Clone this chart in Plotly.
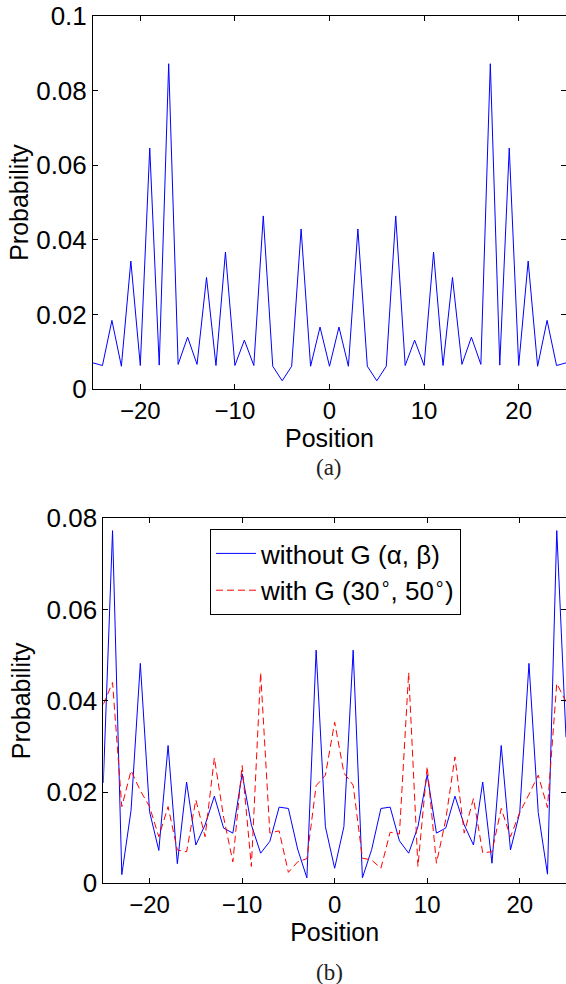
import plotly.graph_objects as go

# ---------------- data ----------------
positions = list(range(-25, 26))

# (a) probability distribution
prob_a = [0.0070, 0.0063, 0.0184, 0.0061, 0.0343, 0.0063, 0.0646, 0.0064, 0.0872, 0.0066,
          0.0139, 0.0066, 0.0299, 0.0063, 0.0367, 0.0063, 0.0131, 0.0063, 0.0464, 0.0061,
          0.0022, 0.0061, 0.0429, 0.0061, 0.0166, 0.0061, 0.0166, 0.0061, 0.0429, 0.0061,
          0.0022, 0.0061, 0.0464, 0.0063, 0.0131, 0.0063, 0.0367, 0.0063, 0.0299, 0.0066,
          0.0139, 0.0066, 0.0872, 0.0064, 0.0646, 0.0063, 0.0343, 0.0061, 0.0184, 0.0063,
          0.0070]

# (b) without G (alpha, beta)
prob_without = [0.0220, 0.0773, 0.0019, 0.0160, 0.0482, 0.0157, 0.0072, 0.0302, 0.0043, 0.0222,
                0.0084, 0.0128, 0.0191, 0.0121, 0.0110, 0.0240, 0.0128, 0.0066, 0.0092, 0.0167,
                0.0164, 0.0075, 0.0012, 0.0511, 0.0124, 0.0033, 0.0124, 0.0511, 0.0012, 0.0074,
                0.0164, 0.0167, 0.0093, 0.0066, 0.0124, 0.0238, 0.0110, 0.0121, 0.0191, 0.0128,
                0.0084, 0.0222, 0.0044, 0.0302, 0.0073, 0.0155, 0.0482, 0.0155, 0.0020, 0.0773,
                0.0320]

# (b) with G (30°, 50°)
prob_with = [0.0392, 0.0440, 0.0168, 0.0247, 0.0203, 0.0168, 0.0102, 0.0168, 0.0073, 0.0069,
             0.0183, 0.0102, 0.0275, 0.0145, 0.0047, 0.0258, 0.0037, 0.0462, 0.0110, 0.0115,
             0.0024, 0.0047, 0.0054, 0.0214, 0.0237, 0.0353, 0.0242, 0.0215, 0.0055, 0.0051,
             0.0033, 0.0112, 0.0108, 0.0462, 0.0037, 0.0256, 0.0044, 0.0139, 0.0277, 0.0110,
             0.0186, 0.0067, 0.0069, 0.0164, 0.0102, 0.0155, 0.0195, 0.0237, 0.0166, 0.0438,
             0.0398]

x_ticks = [-20, -10, 0, 10, 20]
y_ticks_a = [0, 0.02, 0.04, 0.06, 0.08, 0.1]
y_labels_a = ["0", "0.02", "0.04", "0.06", "0.08", "0.1"]
y_ticks_b = [0, 0.02, 0.04, 0.06, 0.08]
y_labels_b = ["0", "0.02", "0.04", "0.06", "0.08"]

name_without = "without G (α, β)"
name_with = "with G (30<sup>∘</sup>, 50<sup>∘</sup>)"

# ---------------- figure ----------------
W, H = 566, 984
FONT = "Liberation Sans, Arial, Helvetica, sans-serif"

fig = go.Figure()
fig.add_trace(go.Scatter(x=positions, y=prob_a, mode="lines", showlegend=False,
                         line=dict(color="#0000ff", width=1), xaxis="x", yaxis="y"))
fig.add_trace(go.Scatter(x=positions, y=prob_without, mode="lines", name=name_without,
                         line=dict(color="#0000ff", width=1), xaxis="x2", yaxis="y2"))
fig.add_trace(go.Scatter(x=positions, y=prob_with, mode="lines", name=name_with,
                         line=dict(color="#ff0000", width=1, dash="7px,4px"),
                         xaxis="x2", yaxis="y2"))

def px_x(p):
    return p / W

def px_y(p):
    return 1 - p / H

axis_common = dict(showgrid=False, zeroline=False, showline=True, linecolor="black",
                   linewidth=1, ticks="inside", ticklen=5, tickcolor="black",
                   mirror="ticks", automargin=False)
xtick_font = dict(family=FONT, size=24, color="black")
ytick_font = dict(family=FONT, size=26, color="black")
title_font = dict(family=FONT, size=25, color="black")

fig.update_layout(
    width=W, height=H,
    margin=dict(l=0, r=0, t=0, b=0, autoexpand=False),
    paper_bgcolor="white", plot_bgcolor="white",
    font=dict(family=FONT, size=25, color="black"),
    xaxis=dict(domain=[px_x(93), 1], range=[-25, 25], tickvals=x_ticks, anchor="y",
               tickfont=xtick_font,
               title=dict(text="Position", font=title_font, standoff=0),
               **axis_common),
    yaxis=dict(domain=[px_y(389), px_y(16)], range=[0, 0.1], tickvals=y_ticks_a,
               ticktext=y_labels_a, anchor="x", tickfont=ytick_font,
               title=dict(text="Probability", font=title_font, standoff=0),
               **axis_common),
    xaxis2=dict(domain=[px_x(103.3), 1], range=[-25, 25], tickvals=x_ticks, anchor="y2",
                tickfont=xtick_font,
                title=dict(text="Position", font=title_font, standoff=1),
                **axis_common),
    yaxis2=dict(domain=[px_y(883.3), px_y(518.3)], range=[0, 0.08], tickvals=y_ticks_b,
                ticktext=y_labels_b, anchor="x2", tickfont=ytick_font,
                title=dict(text="Probability", font=title_font, standoff=8),
                **axis_common),
    legend=dict(x=px_x(210), y=px_y(529), xanchor="left", yanchor="top",
                bgcolor="white", bordercolor="black", borderwidth=1,
                font=dict(family=FONT, size=26, color="black"),
                tracegroupgap=0, itemwidth=40),
    annotations=[
        dict(text="(a)", x=px_x(329), y=px_y(467), xref="paper", yref="paper",
             showarrow=False, xanchor="center", yanchor="middle",
             font=dict(family="Liberation Serif, DejaVu Serif, serif", size=23, color="#222")),
        dict(text="(b)", x=px_x(329), y=px_y(972), xref="paper", yref="paper",
             showarrow=False, xanchor="center", yanchor="middle",
             font=dict(family="Liberation Serif, DejaVu Serif, serif", size=23, color="#222")),
    ],
)

post = ("document.documentElement.style.margin='0';"
        "document.documentElement.style.padding='0';"
        "document.documentElement.style.overflow='hidden';"
        "document.body.style.margin='0';document.body.style.padding='0';"
        "document.body.style.overflow='hidden';"
        "var gd=document.getElementById('{plot_id}');"
        "gd.style.position='fixed';gd.style.left='0px';gd.style.top='0px';")

fig.write_html("out.html", post_script=post, config={"displayModeBar": False})
